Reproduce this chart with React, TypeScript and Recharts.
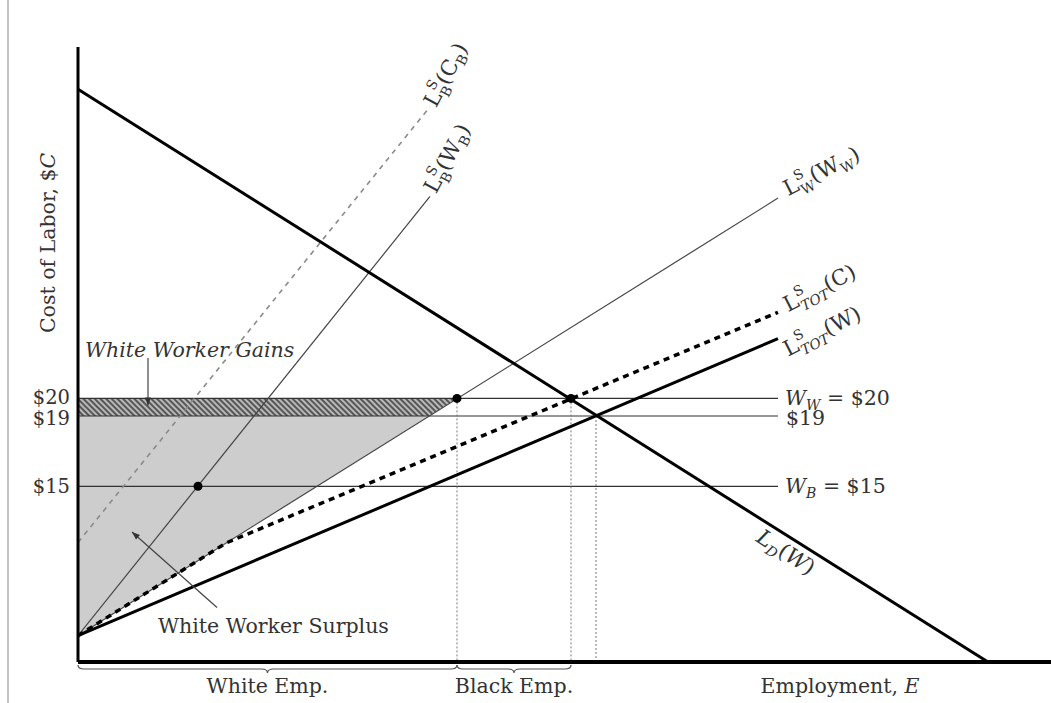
import React from 'react';
import { ComposedChart, Line, Area, XAxis, YAxis, ReferenceLine, ReferenceDot } from 'recharts';

const FONT = '"DejaVu Serif", "Liberation Serif", serif';
const INK = '#333';

// curves, x = employment, y = cost of labor ($)
const laborDemand = [{ x: 0, y: 37.6 }, { x: 91, y: 5 }];
const whiteSupply = [{ x: 0, y: 6.5 }, { x: 70, y: 31.4 }];
const blackSupplyWage = [{ x: 0, y: 6.5 }, { x: 35.2, y: 31.5 }];
const blackSupplyCost = [{ x: 0, y: 11.8 }, { x: 35.2, y: 36.6 }];
const totalSupplyWage = [{ x: 0, y: 6.5 }, { x: 70, y: 23.4 }];
const totalSupplyCost = [{ x: 0, y: 6.5 }, { x: 14.8, y: 11.77 }, { x: 70, y: 24.9 }];

// shaded regions [low, high]
const surplusArea = [{ x: 0, r: [6.5, 19] }, { x: 35.1, r: [19, 19] }];
const gainsArea = [{ x: 0, r: [19, 20] }, { x: 35.1, r: [19, 20] }, { x: 37.9, r: [20, 20] }];

// wages
const wageTicks = [15, 19, 20];
const wageLines = [20, 19, 15];
const wageLineEnd = 70;
const marketPoints = [{ x: 37.9, y: 20 }, { x: 49.3, y: 20 }, { x: 12, y: 15 }];
const employmentDrops = [{ x: 37.9, y: 20 }, { x: 49.3, y: 20 }, { x: 51.8, y: 19 }];
const braces = [{ from: 0, to: 37.9, label: 'White Emp.' }, { from: 37.9, to: 49.3, label: 'Black Emp.' }];

const FS = 20.5;
const CURVE_FS = 21.5;
const sub = 14;

const textMark = (key: string, x: number, y: number, draw: (cx: number, cy: number) => React.ReactNode) => (
  <ReferenceDot key={key} x={x} y={y} r={1} ifOverflow="visible" shape={(p: any) => <g>{draw(p.cx, p.cy)}</g>} />
);

const supplyText = (s: string, arg: string, argSub?: string) => (
  <>
    L
    <tspan fontSize={sub} dy={-10}>S</tspan>
    <tspan fontSize={sub} dx={-9} dy={16} fontStyle={s === 'TOT' ? 'italic' : 'normal'}>{s}</tspan>
    <tspan dy={-6}>({arg}</tspan>
    {argSub ? <tspan fontSize={sub} dy={5}>{argSub}</tspan> : null}
    <tspan dy={argSub ? -5 : 0}>)</tspan>
  </>
);

const rotText = (cx: number, cy: number, angle: number, body: React.ReactNode, anchor = 'start', size = FS) => (
  <text x={cx} y={cy} transform={`rotate(${angle}, ${cx}, ${cy})`} fontFamily={FONT} fontSize={size} fill={INK} textAnchor={anchor}>
    {body}
  </text>
);

const arrowShape = (p: any) => {
  const { x1, y1, x2, y2 } = p;
  const a = Math.atan2(y2 - y1, x2 - x1);
  const bx = x2 - 8 * Math.cos(a);
  const by = y2 - 8 * Math.sin(a);
  const nx = -Math.sin(a) * 3;
  const ny = Math.cos(a) * 3;
  return (
    <g>
      <line x1={x1} y1={y1} x2={x2} y2={y2} stroke="#444" strokeWidth={1.2} />
      <polygon points={`${x2},${y2} ${bx + nx},${by + ny} ${bx - nx},${by - ny}`} fill="#333" />
    </g>
  );
};

const braceShape = (p: any) => {
  const { x1, x2 } = p;
  const y = p.y1 + 3;
  const d = 4;
  const m = (x1 + x2) / 2;
  const path = `M${x1},${y} Q${x1},${y + d} ${x1 + 6},${y + d} L${m - 6},${y + d} Q${m},${y + d} ${m},${y + 2 * d} Q${m},${y + d} ${m + 6},${y + d} L${x2 - 6},${y + d} Q${x2},${y + d} ${x2},${y}`;
  return <path d={path} fill="none" stroke="#555" strokeWidth={1.2} />;
};

// $20 and $19 sit close together, nudge them apart a little
const wageTick = (p: any) => {
  const { x, y, payload } = p;
  const nudge = payload.value === 20 ? -1.5 : payload.value === 19 ? 1.5 : 0;
  return (
    <text x={x} y={y + nudge} dy="0.36em" textAnchor="end" fontFamily={FONT} fontSize={19.5} fill={INK}>
      ${payload.value}
    </text>
  );
};

export default function App() {
  return (
    <div style={{ position: 'absolute', left: 0, top: 0, background: '#fff' }}>
      <ComposedChart width={1051} height={703} margin={{ top: 47, right: 0, bottom: 11, left: 0 }}>
        <defs>
          <pattern id="hatch" patternUnits="userSpaceOnUse" width={4} height={4} patternTransform="rotate(-45)">
            <rect width={4} height={4} fill="#b8b8b8" />
            <line x1={1} y1={0} x2={1} y2={4} stroke="#222" strokeWidth={1.3} />
          </pattern>
        </defs>
        <XAxis type="number" dataKey="x" domain={[0, 97.3]} allowDataOverflow tick={false} tickLine={false}
          axisLine={{ stroke: '#000', strokeWidth: 4 }} height={30} />
        <YAxis type="number" domain={[5, 40]} allowDataOverflow ticks={wageTicks} interval={0} width={78}
          tickLine={false} tickSize={4} tickMargin={4}
          axisLine={{ stroke: '#000', strokeWidth: 3 }}
          tick={wageTick} />

        {/* page frame line */}
        <ReferenceLine segment={[{ x: -7, y: 42.7 }, { x: -7, y: 2.6 }]} ifOverflow="visible" stroke="#c4c4c4" strokeWidth={2} />

        <Area data={surplusArea} dataKey="r" type="linear" stroke="none" fill="#cdcdcd" fillOpacity={1} isAnimationActive={false} />
        <Area data={gainsArea} dataKey="r" type="linear" stroke="none" fill="url(#hatch)" fillOpacity={1} isAnimationActive={false} />

        {wageLines.map((w) => (
          <ReferenceLine key={`w${w}`} segment={[{ x: 0, y: w }, { x: wageLineEnd, y: w }]} stroke="#333" strokeWidth={1.2} />
        ))}
        {employmentDrops.map((e) => (
          <ReferenceLine key={`e${e.x}`} segment={[{ x: e.x, y: e.y }, { x: e.x, y: 5 }]} stroke="#777" strokeWidth={1} strokeDasharray="2 2" />
        ))}

        <Line data={blackSupplyCost} dataKey="y" type="linear" stroke="#8a8a8a" strokeWidth={1.6} strokeDasharray="5 5" dot={false} isAnimationActive={false} />
        <Line data={blackSupplyWage} dataKey="y" type="linear" stroke="#444" strokeWidth={1.2} dot={false} isAnimationActive={false} />
        <Line data={whiteSupply} dataKey="y" type="linear" stroke="#444" strokeWidth={1.2} dot={false} isAnimationActive={false} />
        <Line data={totalSupplyCost} dataKey="y" type="linear" stroke="#000" strokeWidth={3.5} strokeDasharray="6 5" dot={false} isAnimationActive={false} />
        <Line data={totalSupplyWage} dataKey="y" type="linear" stroke="#000" strokeWidth={3} dot={false} isAnimationActive={false} />
        <Line data={laborDemand} dataKey="y" type="linear" stroke="#000" strokeWidth={3} dot={false} isAnimationActive={false} />
        <Line data={marketPoints} dataKey="y" type="linear" stroke="none" dot={{ r: 4.5, fill: '#000', stroke: 'none' }} isAnimationActive={false} />

        {braces.map((b) => (
          <ReferenceLine key={b.label} segment={[{ x: b.from, y: 5 }, { x: b.to, y: 5 }]} ifOverflow="visible" shape={braceShape} />
        ))}
        {braces.map((b) =>
          textMark(`t${b.label}`, (b.from + b.to) / 2, 3.7, (cx, cy) => rotText(cx, cy + 8, 0, b.label, 'middle'))
        )}

        <ReferenceLine segment={[{ x: 7, y: 22.3 }, { x: 7, y: 19.6 }]} ifOverflow="visible" shape={arrowShape} />
        <ReferenceLine segment={[{ x: 13.9, y: 8.1 }, { x: 5.4, y: 12.4 }]} ifOverflow="visible" shape={arrowShape} />

        {textMark('gains', 0.7, 22.75, (cx, cy) => rotText(cx, cy + 7, 0, <tspan fontStyle="italic">White Worker Gains</tspan>))}
        {textMark('surplus', 8, 7.05, (cx, cy) => rotText(cx, cy + 7, 0, 'White Worker Surplus'))}
        {textMark('ylab', -2.3, 28.85, (cx, cy) => rotText(cx, cy, -90, <>Cost of Labor, $<tspan fontStyle="italic">C</tspan></>, 'middle'))}
        {textMark('xlab', 76.2, 3.7, (cx, cy) => rotText(cx, cy + 8, 0, <>Employment, <tspan fontStyle="italic">E</tspan></>, 'middle'))}

        {textMark('ww', 70.7, 20, (cx, cy) => rotText(cx, cy + 7, 0, <><tspan fontStyle="italic">W</tspan><tspan fontSize={sub} fontStyle="italic" dy={5}>W</tspan><tspan dy={-5}> = $20</tspan></>))}
        {textMark('w19', 70.8, 19, (cx, cy) => rotText(cx, cy + 9, 0, '$19'))}
        {textMark('wb', 70.7, 15, (cx, cy) => rotText(cx, cy + 7, 0, <><tspan fontStyle="italic">W</tspan><tspan fontSize={sub} fontStyle="italic" dy={5}>B</tspan><tspan dy={-5}> = $15</tspan></>))}

        {textMark('lbc', 35.8, 36.5, (cx, cy) => rotText(cx, cy, -62, supplyText('B', 'C', 'B'), 'start', CURVE_FS))}
        {textMark('lbw', 35.8, 31.6, (cx, cy) => rotText(cx, cy, -62, supplyText('B', 'W', 'B'), 'start', CURVE_FS))}
        {textMark('lww', 71, 31.5, (cx, cy) => rotText(cx, cy, -27, supplyText('W', 'W', 'W'), 'start', CURVE_FS))}
        {textMark('ltc', 71, 24.9, (cx, cy) => rotText(cx, cy, -27, supplyText('TOT', 'C'), 'start', CURVE_FS))}
        {textMark('ltw', 71, 22.6, (cx, cy) => rotText(cx, cy + 4, -27, supplyText('TOT', 'W'), 'start', CURVE_FS))}
        {textMark('ld', 70.4, 10.9, (cx, cy) => rotText(cx, cy, 33, <><tspan fontStyle="italic">L</tspan><tspan fontSize={sub} fontStyle="italic" dy={5}>D</tspan><tspan dy={-5}>(</tspan><tspan fontStyle="italic">W</tspan>)</>, 'middle', CURVE_FS))}
      </ComposedChart>
    </div>
  );
}
